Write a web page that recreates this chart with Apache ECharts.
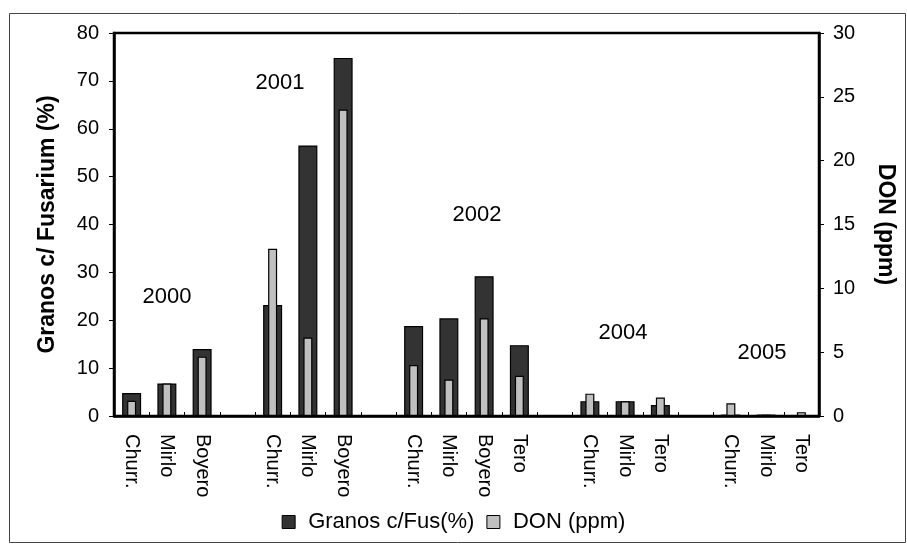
<!DOCTYPE html>
<html>
<head>
<meta charset="utf-8">
<script src="https://cdn.jsdelivr.net/npm/echarts@6/dist/echarts.min.js"></script>
<style>
  html, body { margin: 0; padding: 0; background: #fff; }
  #chart { width: 907px; height: 544px; }
</style>
</head>
<body>
<div id="chart"></div>
<script>
// Cultivars per year; empty strings are spacer slots between years
const categories = [
  'Churr.', 'Mirlo', 'Boyero', '',
  'Churr.', 'Mirlo', 'Boyero', '',
  'Churr.', 'Mirlo', 'Boyero', 'Tero', '',
  'Churr.', 'Mirlo', 'Tero', '',
  'Churr.', 'Mirlo', 'Tero'
];

// Grains with Fusarium (%)
const granosFus = [
  4.8, 6.8, 14.0, null,
  23.2, 56.5, 74.8, null,
  18.8, 20.4, 29.2, 14.8, null,
  3.1, 3.1, 2.3, null,
  0.3, 0.3, 0.2
];

// Deoxynivalenol (ppm)
const don = [
  1.2, 2.55, 4.65, null,
  13.1, 6.15, 24.0, null,
  4.0, 2.85, 7.65, 3.15, null,
  1.75, 1.15, 1.45, null,
  1.0, 0.1, 0.3
];

const leftTicks = { min: 0, max: 80, interval: 10 };
const rightTicks = { min: 0, max: 30, interval: 5 };

// Year captions and their label positions
const years = ['2000', '2001', '2002', '2004', '2005'];
const yearPos = [[167, 297], [280, 83], [477, 215], [623, 333], [762, 353]];

const FONT = '"Liberation Sans", Arial, sans-serif';

const chart = echarts.init(document.getElementById('chart'));

chart.setOption({
  animation: false,
  backgroundColor: '#fff',
  textStyle: { fontFamily: FONT, color: '#000' },
  grid: {
    left: 114, right: 88, top: 33, bottom: 128,
    show: true, borderColor: '#000', borderWidth: 2.5, backgroundColor: 'transparent'
  },
  legend: {
    bottom: 6,
    left: 'center',
    itemWidth: 13,
    itemHeight: 13,
    itemGap: 12,
    icon: 'rect',
    textStyle: { fontFamily: FONT, fontSize: 22, color: '#000', padding: [0, 0, 0, 8] },
    data: [
      { name: 'Granos c/Fus(%)', itemStyle: { color: '#333333', borderColor: '#000', borderWidth: 1 } },
      { name: 'DON (ppm)', itemStyle: { color: '#c0c0c0', borderColor: '#000', borderWidth: 1 } }
    ]
  },
  xAxis: [
    {
      type: 'category',
      data: categories,
      position: 'bottom',
      axisLine: { show: true, lineStyle: { color: '#000', width: 2.5 } },
      axisTick: { show: true, inside: true, length: 4, lineStyle: { color: '#000', width: 1 } },
      axisLabel: {
        rotate: -90, margin: 18, interval: 0,
        fontFamily: FONT, fontSize: 20, color: '#000'
      },
      splitLine: { show: false }
    },
    {
      type: 'category',
      data: categories,
      position: 'bottom',
      show: false
    }
  ],
  yAxis: [
    {
      type: 'value',
      min: leftTicks.min, max: leftTicks.max, interval: leftTicks.interval,
      position: 'left',
      name: 'Granos c/ Fusarium (%)',
      nameLocation: 'middle',
      nameGap: 55,
      nameTextStyle: { fontFamily: FONT, fontSize: 23, fontWeight: 'bold', color: '#000' },
      axisLine: { show: true, lineStyle: { color: '#000', width: 2.5 } },
      axisTick: { show: true, length: 5, lineStyle: { color: '#000', width: 1 } },
      axisLabel: { fontFamily: FONT, fontSize: 20, color: '#000', margin: 15 },
      splitLine: { show: false }
    },
    {
      type: 'value',
      min: rightTicks.min, max: rightTicks.max, interval: rightTicks.interval,
      position: 'right',
      name: 'DON (ppm)',
      nameLocation: 'middle',
      nameRotate: -90,
      nameGap: 55,
      nameTextStyle: { fontFamily: FONT, fontSize: 23, fontWeight: 'bold', color: '#000' },
      axisLine: { show: true, lineStyle: { color: '#000', width: 2.5 } },
      axisTick: { show: true, length: 5, lineStyle: { color: '#000', width: 1 } },
      axisLabel: { fontFamily: FONT, fontSize: 20, color: '#000', margin: 14 },
      splitLine: { show: false }
    }
  ],
  series: [
    {
      name: 'Granos c/Fus(%)',
      type: 'bar',
      xAxisIndex: 0,
      yAxisIndex: 0,
      data: granosFus,
      barWidth: 19,
      itemStyle: { color: '#333333', borderColor: '#000', borderWidth: 1.2 }
    },
    {
      name: 'DON (ppm)',
      type: 'bar',
      xAxisIndex: 1,
      yAxisIndex: 1,
      data: don,
      barWidth: 9,
      itemStyle: { color: '#c0c0c0', borderColor: '#000', borderWidth: 1.2 }
    }
  ],
  graphic: [
    {
      type: 'rect',
      silent: true,
      shape: { x: 9.5, y: 13.5, width: 896, height: 529 },
      style: { fill: 'none', stroke: '#444', lineWidth: 1 },
      z: -1
    }
  ].concat(years.map((y, i) => ({
    type: 'text',
    silent: true,
    x: yearPos[i][0],
    y: yearPos[i][1],
    style: {
      text: y,
      fontFamily: FONT,
      fontSize: 22,
      fill: '#000',
      textAlign: 'center',
      textVerticalAlign: 'middle'
    }
  })))
});
</script>
</body>
</html>
